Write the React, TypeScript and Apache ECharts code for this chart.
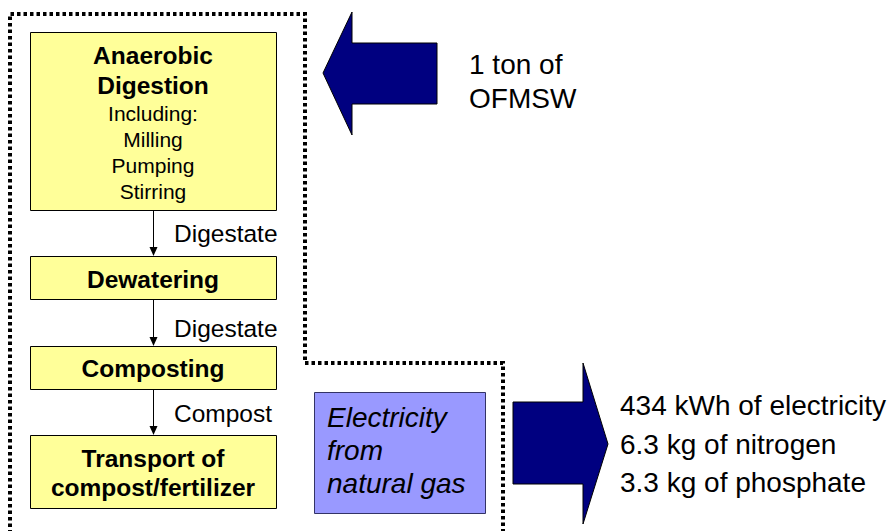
import React, { useEffect, useRef } from "react";
import * as echarts from "echarts";

const stepTitles: string[][] = [["Anaerobic", "Digestion"], ["Dewatering"], ["Composting"], ["Transport of", "compost/fertilizer"]];
const stepDetails: string[] = ["Including:", "Milling", "Pumping", "Stirring"];
const flowLabels: string[] = ["Digestate", "Digestate", "Compost"];
const inputLabel: string[] = ["1 ton of", "OFMSW"];
const offsetLabel: string[] = ["Electricity", "from", "natural gas"];
const outputLines: string[] = ["434 kWh of electricity", "6.3 kg of nitrogen", "3.3 kg of phosphate"];

const FONT = "'Liberation Sans', Arial, sans-serif";

export default function App() {
  const ref = useRef<HTMLDivElement>(null);
  useEffect(() => {
    document.body.style.margin = "0";
    const chart = echarts.init(ref.current!, null, { renderer: "svg" });
    const els: any[] = [];
    const txt = (text: string, x: number, y: number, size: number, opts: any = {}) => {
      els.push({
        type: "text",
        x,
        y,
        z: 10,
        style: {
          text,
          fontFamily: FONT,
          fontSize: size,
          fontWeight: opts.bold ? "bold" : "normal",
          fontStyle: opts.italic ? "italic" : "normal",
          fill: "#000",
          align: opts.align || "left",
          verticalAlign: "middle",
        },
      });
    };

    // dotted boundary
    els.push({
      type: "polyline",
      z: 1,
      shape: { points: [[10, 540], [10, 14], [305, 14], [305, 363], [503, 363], [503, 540]] },
      style: { stroke: "#000", lineWidth: 4, lineDash: [3.5, 3], fill: "none" },
    });

    // process boxes
    const boxes = [
      [30, 32, 246, 178],
      [30, 256, 246, 43],
      [30, 346, 246, 43],
      [30, 435, 246, 73],
    ];
    boxes.forEach(([x, y, w, h]) => {
      els.push({
        type: "rect",
        z: 5,
        shape: { x: x + 0.5, y: y + 0.5, width: w, height: h },
        style: { fill: "#FFFF99", stroke: "#000", lineWidth: 1 },
      });
    });

    // titles
    const titleY = [[55, 85], [279], [368], [458, 487]];
    stepTitles.forEach((lines, i) => lines.forEach((t, j) => txt(t, 153, titleY[i][j], 24.5, { bold: true, align: "center" })));
    const detailY = [113, 139, 165, 191];
    stepDetails.forEach((t, i) => txt(t, 153, detailY[i], 21, { align: "center" }));

    // flow arrows
    for (let i = 0; i < 3; i++) {
      const y0 = boxes[i][1] + boxes[i][3];
      const y1 = boxes[i + 1][1];
      els.push({ type: "line", z: 6, shape: { x1: 153.5, y1: y0, x2: 153.5, y2: y1 - 9 }, style: { stroke: "#000", lineWidth: 1 } });
      els.push({ type: "polygon", z: 6, shape: { points: [[149.5, y1 - 9], [157.5, y1 - 9], [153.5, y1]] }, style: { fill: "#000" } });
    }
    const flowY = [233, 328, 413];
    flowLabels.forEach((t, i) => txt(t, 174, flowY[i], 24.5));

    // input arrow
    els.push({
      type: "polygon",
      z: 5,
      shape: { points: [[323, 73], [352, 12], [352, 43], [437, 43], [437, 104], [352, 104], [352, 135]] },
      style: { fill: "#000080", stroke: "#000", lineWidth: 1 },
    });
    const inY = [64.5, 98];
    inputLabel.forEach((t, i) => txt(t, 469, inY[i], 28));

    // offset box
    els.push({
      type: "rect",
      z: 5,
      shape: { x: 314.5, y: 392.5, width: 171, height: 121 },
      style: { fill: "#9999FF", stroke: "#333366", lineWidth: 1 },
    });
    const offY = [417, 450, 483];
    offsetLabel.forEach((t, i) => txt(t, 327, offY[i], 28, { italic: true }));

    // output arrow
    els.push({
      type: "polygon",
      z: 5,
      shape: { points: [[513, 402], [583, 402], [583, 363], [608, 444], [583, 524], [583, 484], [513, 484]] },
      style: { fill: "#000080", stroke: "#000", lineWidth: 1 },
    });
    const outY = [405.5, 444, 482];
    outputLines.forEach((t, i) => txt(t, 620, outY[i], 28));

    chart.setOption({ animation: false, graphic: { elements: els } });
    return () => chart.dispose();
  }, []);
  return <div ref={ref} style={{ position: "absolute", left: 0, top: 0, width: 893, height: 531, background: "#fff" }} />;
}
